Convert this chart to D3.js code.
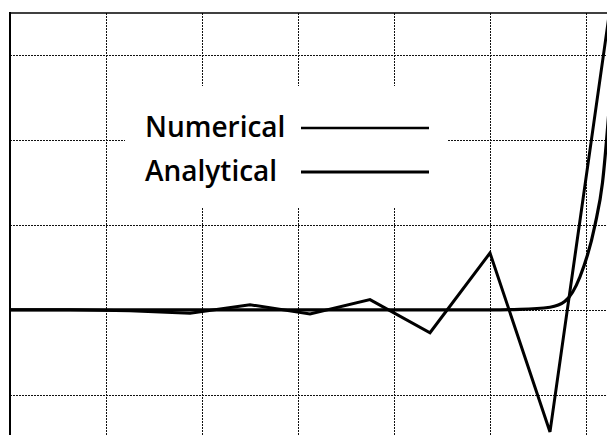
<!DOCTYPE html>
<html>
<head>
<meta charset="utf-8">
<script src="https://cdn.jsdelivr.net/npm/d3@7"></script>
<style>
  html, body { margin: 0; padding: 0; background: #fff; }
  svg { display: block; }
</style>
</head>
<body>
<svg id="chart" width="607" height="435"></svg>
<script>
// Sample positions (step 0.125) and the two solutions
const xSamples = [0, 0.125, 0.25, 0.375, 0.5, 0.625, 0.75, 0.875, 1.0, 1.125, 1.25];
const numerical = [0, 0, -0.01, -0.04, 0.06, -0.05, 0.12, -0.27, 0.67, -1.44, 3.55];

const analyticalX = [0, 0.125, 0.25, 0.375, 0.5, 0.625, 0.75, 0.875, 1.0, 1.0625, 1.125, 1.15625, 1.1875, 1.21875, 1.234375, 1.25];
const analytical  = [0, 0, 0, 0, 0, 0, 0, 0, 0, 0.005, 0.03, 0.1, 0.39, 1.0, 1.5, 2.5];

const xTicks = [0.2, 0.4, 0.6, 0.8, 1.0, 1.2];
const yTicks = [-1, 0, 1, 2, 3];

const legendLabels = ["Numerical", "Analytical"];

const W = 607, H = 435;
const padL = 10, padT = 13;

const svg = d3.select("#chart");

const x = d3.scaleLinear().domain([0, 1.25]).range([padL, padL + 600]);
const y = d3.scaleLinear().domain([-1.5, 3.5]).range([padT + 424, padT]);

svg.append("defs").append("clipPath").attr("id", "plot")
  .append("rect").attr("x", padL).attr("y", padT).attr("width", W - padL).attr("height", H - padT);

// dotted grid
const grid = svg.append("g").attr("stroke", "#111").attr("stroke-width", 1)
  .attr("stroke-dasharray", "2,1");
grid.selectAll("line.v").data(xTicks).join("line").attr("class", "v")
  .attr("x1", d => Math.round(x(d)) + 0.5).attr("x2", d => Math.round(x(d)) + 0.5)
  .attr("y1", padT).attr("y2", H);
grid.selectAll("line.h").data(yTicks).join("line").attr("class", "h")
  .attr("x1", padL).attr("x2", W)
  .attr("y1", d => Math.round(y(d)) + 0.5).attr("y2", d => Math.round(y(d)) + 0.5);

// frame edges
svg.append("line").attr("x1", padL).attr("x2", padL).attr("y1", padT - 1).attr("y2", H)
  .attr("stroke", "#000").attr("stroke-width", 2);
svg.append("line").attr("x1", padL).attr("x2", W).attr("y1", padT).attr("y2", padT)
  .attr("stroke", "#000").attr("stroke-width", 1.6);

// legend box (white, covers the grid)
const legend = svg.append("g");
legend.append("rect").attr("x", 125).attr("y", 86).attr("width", 322).attr("height", 122)
  .attr("fill", "#fff");

const plot = svg.append("g").attr("clip-path", "url(#plot)");

const analyticPts = analyticalX.map((d, i) => [d, analytical[i]]);
const numericPts = xSamples.map((d, i) => [d, numerical[i]]);

plot.append("path").datum(analyticPts)
  .attr("fill", "none").attr("stroke", "#000").attr("stroke-width", 3.2)
  .attr("stroke-linejoin", "round")
  .attr("d", d3.line().x(d => x(d[0])).y(d => y(d[1])).curve(d3.curveMonotoneX));

plot.append("path").datum(numericPts)
  .attr("fill", "none").attr("stroke", "#000").attr("stroke-width", 3)
  .attr("stroke-linejoin", "miter")
  .attr("d", d3.line().x(d => x(d[0])).y(d => y(d[1])));

// legend entries
const rows = legend.selectAll("g.row").data(legendLabels).join("g").attr("class", "row")
  .attr("transform", (d, i) => `translate(0, ${i * 44})`);
rows.append("text").attr("x", 145).attr("y", 137)
  .attr("font-family", "'Open Sans', sans-serif").attr("font-weight", 600)
  .attr("font-size", 28).attr("fill", "#000").text(d => d);
rows.append("line").attr("x1", 301).attr("x2", 429).attr("y1", 128).attr("y2", 128)
  .attr("stroke", "#000").attr("stroke-width", (d, i) => i === 0 ? 2.6 : 3.2);
</script>
</body>
</html>
